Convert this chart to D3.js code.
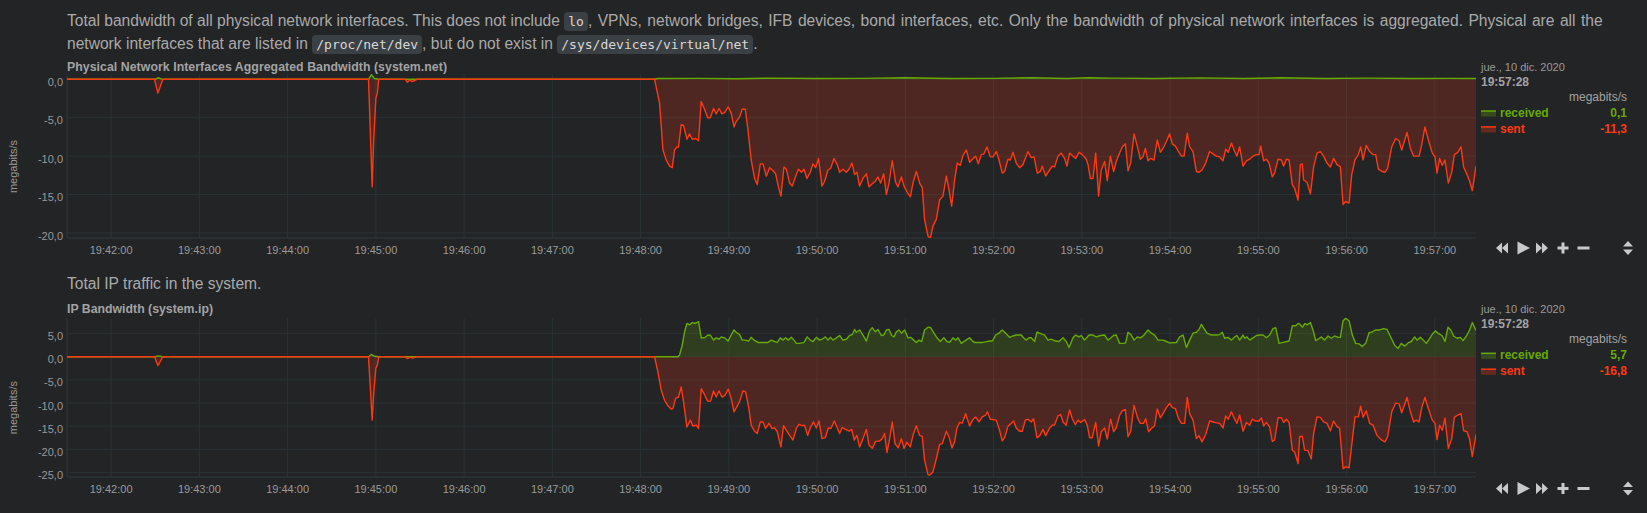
<!DOCTYPE html>
<html><head><meta charset="utf-8">
<script src="https://cdn.jsdelivr.net/npm/d3@7"></script>
<style>
html,body{margin:0;padding:0;background:#222426;width:1647px;height:513px;overflow:hidden;font-family:"Liberation Sans",Arial,Helvetica,sans-serif;}
.p{position:absolute;left:67px;color:#aaaaaa;font-size:15.6px;line-height:22px;white-space:nowrap;}
.p .w{word-spacing:1.1px;}
code{font-family:"DejaVu Sans Mono","Liberation Mono",monospace;font-size:13px;background:#3b4044;color:#d8d8d8;border-radius:4px;padding:2px 4px;word-spacing:0;}
svg{position:absolute;left:0;top:0;}
</style></head><body>
<div class="p" style="top:10px">Total bandwidth of all physical network interfaces. This does not include <code>lo</code><span class="w">, VPNs, network bridges, IFB devices, bond interfaces, etc. Only the bandwidth of physical network interfaces is aggregated. Physical are all the</span><br>network interfaces that are listed in <code>/proc/net/dev</code>, but do not exist in <code>/sys/devices/virtual/net</code>.</div>
<div class="p" style="top:273px">Total IP traffic in the system.</div>
<svg id="chart" width="1647" height="513"></svg>
<script>
// ---- data: [seconds after 19:40:00, megabits/s] ----
const seriesNames = ["received", "sent"];
const unitsLabel = "megabits/s";
const legendDate = "jue., 10 dic. 2020";
const yTicks1 = [0, -5, -10, -15, -20];
const yTicks2 = [5, 0, -5, -10, -15, -20, -25];

const recv1 = [[90,0],[150,0],[152,0.2],[155,0],[295,0],[297,0.6],[299,0.1],[302,0],[489,0],[492,0.1],[520,0.12],[545,0.08],[570,0.15],[600,0.1],[630,0.12],[660,0.2],[690,0.1],[720,0.12],[745,0.2],[770,0.1],[785,0.2],[800,0.15],[830,0.1],[860,0.18],[890,0.1],[915,0.2],[945,0.1],[975,0.15],[1005,0.1],[1030,0.12],[1048,0.1]];

const sent1 = [[90,0],[149.5,0],[151.8,-1.8],[155.2,0],[295,0],[297.5,-14.0],[298.5,-8.0],[300,-2.5],[301,-1.8],[302,0],[320,0],[321.5,-0.4],[323,-0.1],[325,-0.3],[328,0],[489.5,0],
[492.9,-3.1],[495.2,-9.2],[497.4,-10.5],[499.7,-11.3],[501.5,-11.5],[503.1,-9.2],[504.7,-8.8],[505.8,-8.8],[507.6,-5.9],[509.2,-6.0],[511.5,-7.8],[513.3,-7.1],[515.1,-7.8],[517.4,-7.7],[519.4,-8.0],[521.2,-2.9],[523.5,-3.9],[525.6,-5.0],[527.4,-5.0],[529.6,-3.8],[531.4,-4.5],[533.3,-3.8],[535.3,-4.5],[537.3,-4.3],[539.6,-3.6],[541.6,-4.4],[543.5,-6.2],[545.0,-5.5],[547.3,-4.9],[549.1,-3.9],[551.2,-3.9],[553.0,-6.6],[555.2,-10.5],[557.5,-12.9],[559.3,-13.7],[561.4,-11.0],[563.2,-11.0],[565.5,-12.6],[567.7,-11.5],[570.0,-11.9],[571.8,-12.3],[573.6,-13.9],[575.4,-15.2],[577.5,-11.4],[579.1,-11.7],[581.3,-13.5],[583.1,-13.9],[585.9,-12.4],[587.4,-11.7],[589.3,-12.1],[591.1,-11.7],[593.1,-12.9],[595.4,-12.1],[597.2,-11.0],[599.0,-11.5],[601.0,-10.3],[603.3,-13.9],[605.1,-13.3],[607.4,-11.8],[609.2,-11.6],[611.5,-10.3],[613.7,-11.1],[615.3,-12.1],[617.6,-11.7],[619.9,-12.1],[621.7,-11.7],[623.7,-10.9],[625.5,-12.4],[627.1,-12.1],[628.9,-13.9],[631.2,-12.9],[633.5,-12.3],[635.3,-14.0],[637.5,-13.6],[639.4,-13.3],[641.4,-12.7],[643.2,-13.5],[645.3,-12.3],[647.1,-15.0],[648.9,-13.5],[651.1,-10.6],[653.4,-13.4],[655.0,-14.0],[657.3,-12.7],[659.1,-13.9],[661.3,-14.7],[663.4,-15.3],[665.2,-13.5],[667.5,-12.0],[669.7,-13.5],[671.5,-14.1],[673.1,-18.3],[675.4,-20.4],[677.0,-20.7],[678.8,-19.1],[681.1,-18.2],[683.3,-15.7],[685.6,-15.2],[687.9,-12.6],[689.7,-14.4],[691.5,-16.5],[693.5,-13.1],[695.3,-10.9],[697.4,-11.2],[699.2,-9.9],[701.5,-9.2],[703.7,-10.8],[705.6,-10.4],[707.8,-10.0],[709.6,-11.0],[711.7,-9.8],[713.5,-9.7],[715.5,-8.8],[717.8,-10.1],[719.6,-10.1],[721.9,-9.4],[723.7,-10.5],
[725.9,-12.2],[727.5,-12.0],[729.8,-10.4],[731.4,-10.5],[733.2,-9.5],[735.4,-10.9],[737.7,-11.5],[740.0,-11.1],[743.4,-9.4],[745.6,-10.2],[747.5,-10.1],[749.7,-12.2],[751.8,-12.0],[753.1,-11.3],[755.4,-12.6],[758.1,-11.8],[759.9,-11.3],[761.5,-11.4],[763.8,-10.0],[766.0,-9.6],[768.3,-10.3],[769.9,-11.3],[771.7,-9.6],[774.0,-10.0],[775.8,-10.3],[778.1,-9.5],[780.3,-9.8],[783.0,-10.4],[784.2,-11.1],[785.8,-12.9],[787.6,-12.9],[789.4,-9.6],[791.4,-15.2],[793.2,-11.8],[795.5,-10.7],[797.3,-13.2],[799.4,-10.0],[801.6,-12.0],[803.4,-10.7],[805.7,-9.6],[807.5,-8.8],[809.6,-8.4],[811.4,-11.9],[813.2,-10.9],[815.5,-7.1],[817.7,-8.7],[819.8,-10.4],[821.6,-10.1],[823.2,-9.0],[825.0,-10.6],[826.6,-10.3],[829.1,-10.5],[831.3,-7.9],[833.4,-9.5],[835.2,-9.0],[837.5,-8.1],[839.7,-7.1],[841.5,-8.4],[843.6,-8.7],[845.4,-9.3],[847.7,-10.0],[849.5,-10.0],[851.7,-7.0],[853.3,-8.8],[855.6,-9.4],[857.9,-12.0],[859.7,-12.1],[861.7,-11.8],[864.2,-10.9],[866.9,-9.4],[869.2,-9.7],[871.5,-10.0],[873.7,-10.1],[876.0,-10.6],[877.8,-9.1],[879.6,-9.5],[881.7,-8.3],[883.9,-9.4],[885.5,-10.0],[887.3,-8.8],[889.6,-11.3],[891.9,-10.6],[894.1,-10.4],[896.4,-10.0],[898.7,-9.8],[900.5,-9.8],[901.6,-8.7],[903.6,-10.6],[905.5,-10.4],[907.3,-10.9],[909.5,-12.7],[911.1,-12.2],[913.4,-10.4],[915.7,-10.5],[917.2,-11.3],[919.1,-10.4],[920.9,-10.5],[923.1,-13.7],[924.7,-14.2],[927.0,-15.7],[928.6,-11.1],
[929.9,-11.0],[930.8,-13.1],[933.1,-13.4],[935.4,-14.9],[937.6,-11.4],[939.9,-9.6],[942.2,-9.4],[944.4,-10.0],[946.7,-10.9],[949.0,-11.4],[951.2,-10.3],[953.5,-11.1],[955.8,-11.4],[957.6,-16.3],[959.4,-15.9],[961.7,-16.1],[963.5,-12.4],[965.7,-10.5],[968.0,-9.8],[969.6,-8.8],[971.2,-10.5],[973.4,-8.6],[975.7,-9.4],[978.0,-9.8],[979.8,-9.8],[981.6,-11.7],[984.3,-12.0],[986.1,-12.1],[987.9,-11.6],[990.7,-8.8],[993.4,-7.7],[995.7,-8.0],[997.5,-9.2],[1001.1,-6.9],[1003.4,-9.0],[1005.6,-10.0],[1009.3,-10.0],[1011.1,-8.5],[1013.3,-6.2],[1015.6,-7.9],[1018.3,-9.6],[1020.1,-10.1],[1021.5,-12.2],[1023.3,-10.3],[1025.1,-11.2],[1026.9,-10.5],[1029.2,-13.5],[1031.5,-12.1],[1033.3,-9.8],[1035.6,-9.5],[1037.8,-8.8],[1039.6,-11.4],[1041.9,-12.4],[1043.7,-13.3],[1045.5,-14.5],[1048,-11.3]];

const recv2 = [[90,0],[150,0],[152,0.2],[155,0],[295,0],[297,0.5],[299,0.1],[302,0],[505.4,0],
[506.5,0.4],[508.3,2.5],[509.9,5.4],[511.5,7.2],[513.3,6.9],[515.1,7.4],[517.2,7.2],[519.4,7.6],[521.2,4.1],[523.5,4.1],[525.8,4.7],[527.6,4.6],[529.6,3.6],[531.4,4.1],[533.3,3.8],[534.8,4.3],[537.1,4.1],[539.4,3.4],[541.6,4.7],[543.5,5.8],[545.0,5.3],[547.3,4.8],[549.1,3.6],[551.4,3.6],[553.4,3.4],[555.2,4.2],[557.1,3.6],[559.8,3.1],[563.2,3.1],[566.6,3.1],[568.9,3.6],[571.1,3.3],[572.9,3.1],[575.0,4.1],[576.8,3.6],[578.6,4.1],[580.4,3.6],[582.5,4.2],[584.3,3.6],[585.9,2.9],[588.1,2.9],[591.1,3.1],[593.3,4.3],[595.4,3.6],[597.2,3.3],[599.5,4.2],[601.7,3.6],[603.5,3.8],[605.6,4.3],[607.4,3.6],[609.2,4.2],[610.8,3.6],[613.1,4.1],[615.3,4.6],[617.6,3.6],[619.9,3.8],[622.1,4.6],[623.9,4.8],[625.5,5.9],[626.7,5.3],[628.9,5.8],[631.2,4.7],[633.5,3.4],[635.7,5.6],[637.5,6.3],[639.6,5.4],[641.4,5.9],[643.7,4.6],[645.3,4.7],[647.1,5.8],[648.9,5.9],[650.7,4.6],[652.3,4.3],[653.9,5.4],[655.7,5.8],[657.3,5.1],[659.5,5.8],[661.8,4.1],[663.6,4.2],[665.7,3.6],[667.5,3.1],[669.3,3.6],[671.1,3.3],[673.1,5.8],[675.4,6.4],[677.2,6.3],[679.5,5.1],[681.5,4.1],[683.8,3.3],[686.1,4.1],[688.3,3.3],[690.1,3.1],[692.4,4.1],[694.2,3.6],[695.8,4.1],[698.1,2.9],[700.3,3.4],[702.2,3.8],[703.7,4.1],[705.6,3.4],[707.1,3.1],[712.8,3.1],[717.3,3.4],[719.1,3.4],[721.4,4.7],[723.6,5.1],[725.9,5.8],[728.2,5.1],[730.9,4.2],[733.2,4.5],[735.4,4.7],[738.8,4.7],[740.4,4.1],[742.2,3.6],[744.1,4.1],[745.6,4.1],[747.9,3.3],[749.5,5.3],[751.3,5.1],[754.7,4.7],[757.0,3.6],[759.2,3.8],[762.2,3.4],[764.5,3.3],[767.2,4.1],[769.4,3.3],[771.3,2.0],[774.0,4.1],[775.8,4.7],[778.1,4.3],[779.6,4.6],[781.9,3.6],[784.9,4.7],[787.6,4.7],[789.8,4.3],[792.8,4.6],[795.5,4.7],[797.8,3.6],[799.4,4.0],[801.6,4.6],[803.4,4.7],[805.7,2.9],[808.0,2.9],[809.8,3.0],[811.4,5.3],[813.6,4.7],[815.5,3.6],[817.7,4.3],[819.8,4.1],[822.0,4.6],[825.0,5.8],[827.3,5.1],[829.5,4.7],[831.8,3.6],[835.2,3.6],[837.5,3.3],[839.7,3.0],[844.3,3.1],[846.5,4.3],[848.8,4.7],[851.1,2.0],[853.3,3.6],[855.6,5.1],[857.9,5.3],[859.7,5.9],[861.3,7.0],[863.1,6.1],[865.1,5.1],[868.1,4.7],[871.5,4.7],[873.7,4.8],[875.5,5.3],[877.1,4.0],[879.4,4.2],[881.7,3.6],[883.9,4.3],[885.5,4.6],[887.3,3.6],[889.6,4.7],[890.7,4.0],[892.3,4.3],[894.1,3.6],[896.4,4.1],[898.7,4.6],[901.4,4.7],[903.2,4.7],[905.5,4.1],[907.7,4.7],[910.0,6.1],[911.8,6.3],[914.1,2.9],[916.8,3.1],[920.9,3.4],[923.1,6.7],[925.4,6.7],[927.0,7.2],[928.1,7.1],[929.9,6.4],[931.7,7.2],[933.1,6.9],[935.4,7.4],[937.2,5.8],[939.0,3.5],[940.6,3.8],[942.8,4.3],[945.1,3.6],[947.4,4.5],[949.6,4.0],[951.9,4.5],[954.2,4.2],[955.8,4.2],[957.6,7.8],[959.4,8.3],[961.7,7.8],[963.9,4.7],[966.2,2.9],[968.5,2.8],[970.7,2.2],[973.0,2.9],[975.3,5.2],[977.5,5.4],[979.8,5.8],[982.5,5.8],[985.2,6.1],[987.5,5.9],[990.4,4.0],[992.7,2.5],[995.0,1.8],[997.2,2.9],[999.5,2.3],[1001.8,3.0],[1004.0,3.3],[1006.3,4.3],[1007.9,3.6],[1010.2,4.2],[1012.4,3.5],[1014.2,2.9],[1016.5,4.0],[1018.8,5.1],[1020.6,5.6],[1022.2,5.1],[1025.1,4.5],[1026.9,3.3],[1029.0,6.4],[1030.8,5.8],[1032.8,4.5],[1035.1,4.0],[1037.4,4.2],[1039.2,3.5],[1041.5,4.5],[1043.7,5.8],[1045.5,7.4],[1048,5.7]];

const sent2 = [[90,0],[149.5,0],[151.8,-1.9],[155.2,0],[295,0],[297.5,-13.7],[298.5,-8.0],[300,-2.5],[301,-1.8],[302,0],[320,0],[321.5,-0.4],[323,-0.1],[325,-0.3],[328,0],[489.5,0],
[491.8,-3.3],[494.0,-7.2],[496.3,-9.4],[498.6,-10.6],[500.8,-11.3],[502.0,-11.2],[503.8,-9.0],[505.8,-8.7],[507.6,-6.5],[509.2,-9.7],[511.5,-15.2],[513.8,-13.7],[515.6,-15.0],[517.8,-14.8],[519.4,-15.5],[521.2,-6.9],[523.5,-8.2],[525.6,-9.6],[527.6,-9.6],[529.6,-7.4],[531.4,-8.7],[533.3,-7.4],[535.3,-8.7],[537.3,-8.4],[539.6,-7.0],[541.6,-9.0],[543.5,-11.9],[545.5,-10.8],[547.3,-9.7],[549.6,-7.4],[551.4,-7.6],[553.4,-10.8],[555.2,-14.8],[557.5,-16.1],[559.3,-16.6],[561.4,-14.1],[563.2,-14.1],[565.0,-15.5],[567.3,-14.4],[569.3,-15.5],[571.1,-15.4],[572.9,-16.2],[575.4,-19.5],[577.2,-14.9],[579.5,-16.1],[581.3,-17.0],[583.6,-18.0],[585.9,-15.5],[587.7,-14.6],[589.7,-14.9],[591.5,-14.8],[593.6,-17.0],[595.6,-15.2],[597.6,-14.1],[599.5,-15.4],[601.3,-13.9],[603.3,-17.7],[605.6,-17.5],[607.6,-15.4],[609.4,-15.5],[611.7,-13.9],[613.5,-15.2],[615.3,-16.6],[617.1,-15.3],[619.4,-15.7],[621.7,-16.1],[623.5,-15.7],[625.3,-18.0],[627.1,-17.0],[628.9,-19.5],[631.2,-17.7],[633.5,-15.7],[635.3,-19.1],[637.5,-19.8],[639.8,-18.3],[642.5,-18.2],[644.3,-17.7],[645.9,-16.6],[647.5,-20.7],[649.3,-17.8],[651.1,-14.1],[653.0,-18.8],[655.2,-19.7],[657.3,-17.7],[659.1,-19.8],[661.1,-18.5],[663.4,-19.5],[665.2,-17.0],[667.5,-14.9],[669.7,-17.0],[671.5,-17.2],[673.1,-22.4],[675.4,-25.5],[676.5,-25.6],[678.8,-24.9],[681.1,-22.0],[683.3,-19.0],[685.1,-18.8],[687.9,-16.1],[689.7,-17.3],[691.7,-19.7],[693.5,-18.4],[695.1,-15.4],[696.9,-14.2],[698.7,-14.4],[701.0,-12.3],[703.7,-15.0],[705.6,-13.7],[707.8,-13.0],[710.1,-14.1],[712.3,-13.0],[714.6,-12.6],[715.7,-11.9],[717.8,-13.5],[721.8,-13.7],[724.1,-15.9],[725.9,-18.2],[727.5,-17.5],[729.8,-15.0],[732.0,-14.4],[733.6,-13.9],[735.4,-15.4],[737.7,-16.1],[739.5,-16.1],[741.6,-13.7],[743.4,-13.5],[745.6,-14.1],[747.2,-13.4],[749.5,-17.5],[751.3,-17.1],[753.6,-15.7],[755.4,-17.1],[758.1,-15.4],[759.9,-14.8],[761.5,-14.7],[763.8,-12.8],[765.6,-12.5],[767.2,-14.1],[769.4,-14.8],[771.7,-11.5],[773.5,-13.4],[775.6,-14.7],[777.4,-13.7],[779.2,-14.2],[781.9,-13.6],[783.7,-14.8],[785.3,-17.5],[787.1,-17.5],[789.4,-14.2],[791.4,-19.3],[793.2,-16.2],[795.5,-15.4],[797.3,-17.8],[799.6,-13.5],[801.6,-16.2],[803.4,-15.4],[805.7,-12.6],[807.5,-11.7],[809.6,-11.4],[811.4,-17.3],[813.2,-16.2],[815.5,-10.5],[817.7,-13.0],[819.8,-14.4],[822.0,-14.4],[823.4,-13.4],[825.4,-16.2],[827.3,-15.5],[829.5,-14.9],[831.3,-11.3],[833.4,-13.2],[835.2,-12.3],[837.5,-11.0],[839.7,-10.1],[841.5,-11.0],[843.6,-11.2],[845.8,-13.4],[847.7,-14.4],[849.9,-14.4],[851.7,-8.8],[853.3,-12.3],[855.6,-13.7],[857.9,-17.7],[859.7,-17.1],[861.7,-18.4],[864.2,-16.8],[866.9,-13.9],[869.2,-14.1],[871.5,-14.3],[873.7,-14.4],[876.0,-15.4],[877.8,-12.8],[879.6,-13.5],[881.7,-11.9],[883.9,-13.5],[885.5,-14.4],[887.3,-12.6],[889.6,-16.1],[891.9,-14.2],[894.1,-14.8],[895.9,-13.5],[898.2,-13.9],[900.5,-13.9],[902.1,-13.2],[903.6,-15.0],[905.5,-14.2],[907.7,-15.2],[909.5,-18.3],[911.1,-18.0],[913.4,-13.2],[915.7,-13.2],[917.2,-14.2],[919.1,-13.5],[920.9,-14.2],[923.1,-20.2],[924.7,-20.6],[927.0,-23.1],[928.1,-17.3],[929.9,-17.2],[931.5,-20.2],[933.8,-20.3],[936.0,-22.1],[937.6,-16.6],[939.9,-13.0],[942.2,-13.1],[944.4,-14.1],[946.7,-14.4],[949.0,-16.0],[951.2,-13.9],[953.5,-15.1],[955.3,-15.5],[957.6,-24.2],[959.4,-23.8],[961.7,-24.0],[963.9,-18.0],[965.7,-13.0],[968.0,-13.0],[969.6,-10.7],[971.2,-13.1],[973.4,-11.7],[975.7,-14.4],[978.0,-14.8],[980.7,-17.0],[983.4,-17.9],[986.1,-18.4],[987.9,-17.3],[990.7,-11.9],[993.4,-10.0],[995.7,-10.2],[997.5,-12.1],[1001.1,-8.8],[1003.4,-11.9],[1005.6,-14.1],[1007.4,-13.7],[1009.3,-14.1],[1011.1,-11.0],[1013.3,-8.8],[1015.6,-11.2],[1018.3,-13.7],[1020.1,-14.4],[1021.5,-17.9],[1023.3,-14.8],[1025.1,-15.9],[1026.9,-13.3],[1029.2,-19.8],[1031.5,-17.7],[1033.3,-13.1],[1035.6,-12.6],[1037.8,-12.3],[1039.6,-16.0],[1041.9,-16.2],[1043.7,-17.9],[1045.5,-21.6],[1048,-16.8]];

// ---- rendering ----
const base = new Date(2020, 11, 10, 19, 40, 0);
const T = s => new Date(base.getTime() + s * 1000);
const startS = 90, endS = 1048;
const colors = {received: "#66aa00", sent: "#fe3912"};
const fmt = v => d3.format(".1f")(v).replace("\u2212", "-").replace(".", ",");
const timeFmt = d3.timeFormat("%H:%M:%S");

const svg = d3.select("#chart");
const FONT = '"Liberation Sans", Arial, Helvetica, sans-serif';

const charts = [
  {id: 1, title: "Physical Network Interfaces Aggregated Bandwidth (system.net)", titleY: 66.7, titleLen: 380,
   top: 75, bottom: 238, yDomain: [-20.65, 0.56], ticks: yTicks1, data: {received: recv1, sent: sent1}, ctrlY: 248},
  {id: 2, title: "IP Bandwidth (system.ip)", titleY: 309, titleLen: null,
   top: 318.3, bottom: 477, yDomain: [-26.0, 8.32], ticks: yTicks2, data: {received: recv2, sent: sent2}, ctrlY: 488.5}
];
const left = 67, right = 1476;

charts.forEach(c => {
  const g = svg.append("g");
  const x = d3.scaleTime().domain([T(startS), T(endS)]).range([left, right]);
  const y = d3.scaleLinear().domain(c.yDomain).range([c.bottom, c.top]);

  // title
  const tt = g.append("text").attr("x", left).attr("y", c.titleY).attr("dominant-baseline", "central")
    .attr("font-family", FONT).attr("font-size", 12.3).attr("font-weight", "bold").attr("fill", "#a3a3a3")
    .text(c.title);
  if (c.titleLen) tt.attr("textLength", c.titleLen).attr("lengthAdjust", "spacing");

  // grid
  const minutes = d3.timeMinute.range(T(startS), T(endS));
  g.append("g").selectAll("line").data(minutes).join("line")
    .attr("x1", d => x(d)).attr("x2", d => x(d)).attr("y1", c.top).attr("y2", c.bottom)
    .attr("stroke", "#2a3337").attr("stroke-width", 1);
  g.append("g").selectAll("line").data(c.ticks).join("line")
    .attr("x1", left).attr("x2", right).attr("y1", d => y(d)).attr("y2", d => y(d))
    .attr("stroke", "#2a3337").attr("stroke-width", 1);
  g.append("line").attr("x1", left).attr("x2", left).attr("y1", c.top).attr("y2", c.bottom)
    .attr("stroke", "#2f383c");
  g.append("line").attr("x1", left).attr("x2", right).attr("y1", c.bottom).attr("y2", c.bottom)
    .attr("stroke", "#2f383c");

  // x tick labels
  g.append("g").selectAll("text").data(minutes).join("text")
    .attr("x", d => x(d)).attr("y", c.bottom + 11.5).attr("text-anchor", "middle").attr("dominant-baseline", "central")
    .attr("font-family", FONT).attr("font-size", 11).attr("fill", "#9a9a9a")
    .text(d => timeFmt(d));
  // y tick labels
  g.append("g").selectAll("text").data(c.ticks).join("text")
    .attr("x", 63).attr("y", d => y(d) + 2.5).attr("text-anchor", "end").attr("dominant-baseline", "central")
    .attr("font-family", FONT).attr("font-size", 11).attr("fill", "#9a9a9a")
    .text(d => fmt(d));
  // y axis title
  const cy = (c.top + c.bottom) / 2 + 10;
  g.append("text").attr("transform", `translate(13,${cy}) rotate(-90)`).attr("text-anchor", "middle")
    .attr("dominant-baseline", "central").attr("font-family", FONT).attr("font-size", 11).attr("fill", "#9a9a9a")
    .text(unitsLabel);

  // series
  const clipId = "clip" + c.id;
  g.append("clipPath").attr("id", clipId).append("rect")
    .attr("x", left).attr("y", c.top - 1).attr("width", right - left).attr("height", c.bottom - c.top + 1);
  const plot = g.append("g").attr("clip-path", `url(#${clipId})`);
  seriesNames.forEach(name => {
    const d = c.data[name];
    const area = d3.area().x(p => x(T(p[0]))).y0(y(0)).y1(p => y(p[1]));
    plot.append("path").datum(d).attr("d", area).attr("fill", colors[name]).attr("fill-opacity", 0.2);
  });
  seriesNames.forEach(name => {
    const d = c.data[name];
    const line = d3.line().x(p => x(T(p[0]))).y(p => y(p[1]));
    plot.append("path").datum(d).attr("d", line).attr("fill", "none")
      .attr("stroke", colors[name]).attr("stroke-width", 1.4).attr("stroke-linejoin", "round");
  });

  // legend
  const lx = 1481, rx = 1627, ty = c.titleY;
  g.append("text").attr("x", lx).attr("y", ty + 0.1).attr("dominant-baseline", "central")
    .attr("font-family", FONT).attr("font-size", 11).attr("fill", "#9a9a9a").text(legendDate);
  const lastT = c.data.sent[c.data.sent.length - 1][0];
  g.append("text").attr("x", lx).attr("y", ty + 15.2).attr("dominant-baseline", "central")
    .attr("font-family", FONT).attr("font-size", 12).attr("font-weight", "bold").attr("fill", "#a3a3a3")
    .text(timeFmt(T(lastT)));
  g.append("text").attr("x", rx).attr("y", ty + 30.2).attr("text-anchor", "end").attr("dominant-baseline", "central")
    .attr("font-family", FONT).attr("font-size", 12).attr("fill", "#a3a3a3").text(unitsLabel);
  seriesNames.forEach((name, i) => {
    const ry = ty + 45.9 + i * 15.9;
    const col = colors[name];
    g.append("rect").attr("x", lx).attr("y", ry - 1.6).attr("width", 15).attr("height", 5.6)
      .attr("fill", col).attr("fill-opacity", 0.3);
    g.append("line").attr("x1", lx).attr("x2", lx + 15).attr("y1", ry - 1.6).attr("y2", ry - 1.6)
      .attr("stroke", col).attr("stroke-width", 1.5);
    g.append("text").attr("x", lx + 19).attr("y", ry).attr("dominant-baseline", "central")
      .attr("font-family", FONT).attr("font-size", 12).attr("font-weight", "bold").attr("fill", col).text(name);
    const dd = c.data[name];
    g.append("text").attr("x", rx).attr("y", ry).attr("text-anchor", "end").attr("dominant-baseline", "central")
      .attr("font-family", FONT).attr("font-size", 12).attr("font-weight", "bold").attr("fill", col)
      .text(fmt(dd[dd.length - 1][1]));
  });

  // controls
  const k = c.ctrlY, ic = "#c9c9c9";
  const icons = [
    `M1508,${k-5.5}L1502,${k}L1508,${k+5.5}Z M1502,${k-5.5}L1496,${k}L1502,${k+5.5}Z`,
    `M1517.5,${k-6.5}L1530,${k}L1517.5,${k+6.5}Z`,
    `M1536,${k-5.5}L1542,${k}L1536,${k+5.5}Z M1542,${k-5.5}L1548,${k}L1542,${k+5.5}Z`,
    `M1561.5,${k-5.5}h3v4h4v3h-4v4h-3v-4h-4v-3h4Z`,
    `M1577.5,${k-1.5}h12v3h-12Z`,
    `M1623,${k-1.5}L1628,${k-7}L1633,${k-1.5}Z M1623,${k+1.5}L1628,${k+7}L1633,${k+1.5}Z`
  ];
  g.append("g").selectAll("path").data(icons).join("path").attr("d", d => d).attr("fill", ic);
});
</script>
</body></html>
